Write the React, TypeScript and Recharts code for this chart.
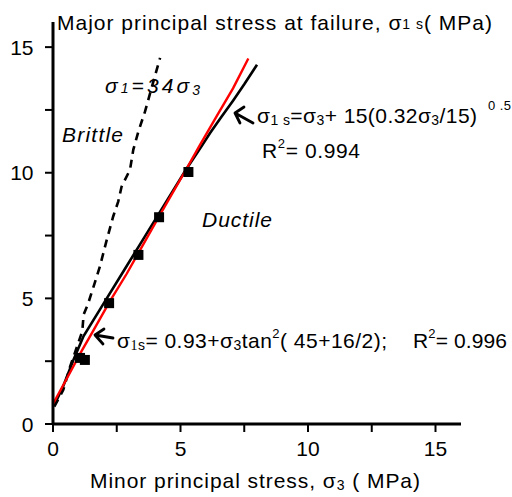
import React from 'react';
import { ComposedChart, XAxis, YAxis, Line, Scatter } from 'recharts';

// ---- data ----
const xTicks = [0, 2.5, 5, 7.5, 10, 12.5, 15];
const yTicks = [0, 2.5, 5, 7.5, 10, 12.5, 15];

// measured failure points (sigma3, sigma1)
const measuredS3 = [1.06, 1.25, 2.2, 3.35, 4.16, 5.31];
const measuredS1 = [2.63, 2.55, 4.81, 6.73, 8.23, 10.03];

// black curve: sigma1 = sigma3 + 15(0.32 sigma3/15)^0.5
const powerS3 = [0.05, 0.4, 0.8, 1.2, 2.0, 2.8, 3.6, 4.4, 5.2, 5.76, 6.16, 6.6, 7.06, 7.5, 8.0];
const powerS1 = [0.75, 1.5, 2.55, 3.5, 4.82, 6.14, 7.46, 8.78, 10.1, 10.95, 11.58, 12.22, 12.87, 13.52, 14.3];

// red line: sigma1 = 0.93 + sigma3 tan^2(45+16/2)
const mcS3 = [0.0, 0.67, 1.12, 1.58, 2.24, 2.89, 3.54, 4.07, 4.52, 5.17, 5.76, 6.42, 7.06, 7.66];
const mcS1 = [0.8, 2.05, 2.9, 3.72, 4.9, 5.98, 7.15, 8.1, 8.9, 10.04, 11.1, 12.25, 13.36, 14.55];

// dashed brittle line: sigma1 = 3.4 sigma3
const brittleS3 = [0.05, 0.4, 0.67, 0.99, 1.15, 1.2, 1.38, 1.6, 1.84, 2.1, 2.36, 2.56, 2.69, 3.02, 3.15, 3.35, 3.61, 3.9, 4.2];
const brittleS1 = [0.69, 1.35, 2.28, 3.22, 3.7, 4.35, 4.8, 5.5, 6.27, 7.3, 8.26, 8.86, 9.45, 10.12, 10.92, 11.65, 12.44, 13.5, 14.57];

const zip = (xs: number[], ys: number[]) => xs.map((x, i) => ({ x, y: ys[i] }));
const measuredData = zip(measuredS3, measuredS1);
const powerData = zip(powerS3, powerS1);
const mcData = zip(mcS3, mcS1);
const brittleData = zip(brittleS3, brittleS1);

const FONT = "'Liberation Sans', Arial, Helvetica, sans-serif";
const W = 512;
const H = 497;

const XTick = (props: any) => {
  const { x, y, payload } = props;
  if (payload.value % 5 !== 0) return <g />;
  return (
    <text x={x} y={y + 22} textAnchor="middle" fontFamily={FONT} fontSize={21} fill="#000">
      {payload.value}
    </text>
  );
};

const YTick = (props: any) => {
  const { x, y, payload } = props;
  if (payload.value % 5 !== 0) return <g />;
  return (
    <text x={x - 9.5} y={y + 7.5} textAnchor="end" fontFamily={FONT} fontSize={21} fill="#000">
      {payload.value}
    </text>
  );
};

const SquareDot = (props: any) => {
  const { cx, cy } = props;
  if (cx == null || cy == null) return <g />;
  return <rect x={cx - 5} y={cy - 5} width={10} height={10} fill="#000" />;
};

const Arrow = ({ x, y, dx, dy, a1, a2 }: { x: number; y: number; dx: number; dy: number; a1: [number, number]; a2: [number, number] }) => (
  <path
    d={`M${x + dx},${y + dy} L${x},${y} M${x + a1[0]},${y + a1[1]} L${x},${y} L${x + a2[0]},${y + a2[1]}`}
    stroke="#000"
    strokeWidth={2.8}
    fill="none"
    strokeLinecap="round"
    strokeLinejoin="round"
  />
);

export default function App() {
  return (
    <div style={{ position: 'absolute', left: 0, top: 0, width: W, height: H, background: '#fff' }}>
      <ComposedChart
        width={W}
        height={H}
        margin={{ top: 22, right: 51, bottom: 33, left: 8 }}
      >
        <XAxis
          type="number"
          dataKey="x"
          domain={[0, 16]}
          ticks={xTicks}
          allowDataOverflow
          interval={0}
          height={40}
          tickSize={8}
          tickMargin={2}
          axisLine={{ stroke: '#000', strokeWidth: 3 }}
          tickLine={{ stroke: '#000', strokeWidth: 2 }}
          tick={<XTick />}
        />
        <YAxis
          type="number"
          dataKey="y"
          domain={[0, 16]}
          ticks={yTicks}
          allowDataOverflow
          interval={0}
          width={45}
          tickSize={8}
          tickMargin={2}
          axisLine={{ stroke: '#000', strokeWidth: 3 }}
          tickLine={{ stroke: '#000', strokeWidth: 2 }}
          tick={<YTick />}
        />
        <Scatter data={measuredData} fill="#000" shape={<SquareDot />} isAnimationActive={false} />
        <Line
          data={brittleData}
          dataKey="y"
          type="linear"
          stroke="#000"
          strokeWidth={2.6}
          strokeDasharray="8 6"
          dot={false}
          activeDot={false}
          isAnimationActive={false}
        />
        <Line
          data={powerData}
          dataKey="y"
          type="linear"
          stroke="#000"
          strokeWidth={2.6}
          dot={false}
          activeDot={false}
          isAnimationActive={false}
        />
        <Line
          data={mcData}
          dataKey="y"
          type="linear"
          stroke="#ff0000"
          strokeWidth={2.4}
          dot={false}
          activeDot={false}
          isAnimationActive={false}
        />
      </ComposedChart>
      <svg
        width={W}
        height={H}
        style={{ position: 'absolute', left: 0, top: 0, pointerEvents: 'none' }}
        fontFamily={FONT}
        fill="#000"
      >
        {/* y axis title at top */}
        <text x={57} y={30} fontSize={21} textLength={435} lengthAdjust="spacing">
          Major principal stress at failure, σ<tspan fontSize={14} dy={-1}>1 s</tspan>
          <tspan dy={1}>( MPa)</tspan>
        </text>
        {/* x axis title */}
        <text x={90} y={488} fontSize={21} textLength={330} lengthAdjust="spacing">
          Minor principal stress, σ<tspan fontSize={14} dy={2}>3</tspan>
          <tspan dy={-2}> ( MPa)</tspan>
        </text>
        {/* region labels */}
        <text x={62} y={141.5} fontSize={21} fontStyle="italic" textLength={61} lengthAdjust="spacing">
          Brittle
        </text>
        <text x={202} y={226.5} fontSize={21} fontStyle="italic" textLength={70} lengthAdjust="spacing">
          Ductile
        </text>
        <text x={105} y={93} fontSize={21} fontStyle="italic" textLength={95} lengthAdjust="spacing">
          σ<tspan fontSize={14} dy={0}>1</tspan>=34σ<tspan fontSize={14} dy={2}>3</tspan>
        </text>
        {/* black curve annotation */}
        <Arrow x={235} y={113} dx={18} dy={10} a1={[9, -6]} a2={[5, 10]} />
        <text x={257} y={123.3} fontSize={21} textLength={220} lengthAdjust="spacing">
          σ<tspan fontSize={14} dy={2}>1 s</tspan>
          <tspan dy={-2}>=σ</tspan>
          <tspan fontSize={14} dy={2}>3</tspan>
          <tspan dy={-2}>+ 15(0.32σ</tspan>
          <tspan fontSize={14} dy={2}>3</tspan>
          <tspan dy={-2}>/15)</tspan>
        </text>
        <text x={488} y={110} fontSize={13} textLength={23} lengthAdjust="spacing">
          0 .5
        </text>
        <text x={262} y={158.3} fontSize={21} textLength={98} lengthAdjust="spacing">
          R<tspan fontSize={13} dy={-10}>2</tspan>
          <tspan dy={10}>= 0.994</tspan>
        </text>
        {/* red line annotation */}
        <Arrow x={95} y={335} dx={18} dy={3} a1={[9, -6]} a2={[8, 9]} />
        <text x={117} y={348.3} fontSize={21} textLength={270} lengthAdjust="spacing">
          σ<tspan fontSize={14} dy={2} fontFamily="'Liberation Serif', serif">1</tspan>
          <tspan fontSize={14}>s</tspan>
          <tspan dy={-2}>= 0.93+σ</tspan>
          <tspan fontSize={14} dy={2}>3</tspan>
          <tspan dy={-2}>tan</tspan>
          <tspan fontSize={13} dy={-10}>2</tspan>
          <tspan dy={10}>( 45+16/2);</tspan>
        </text>
        <text x={413} y={348.3} fontSize={21} textLength={94} lengthAdjust="spacing">
          R<tspan fontSize={13} dy={-10}>2</tspan>
          <tspan dy={10}>= 0.996</tspan>
        </text>
      </svg>
    </div>
  );
}
